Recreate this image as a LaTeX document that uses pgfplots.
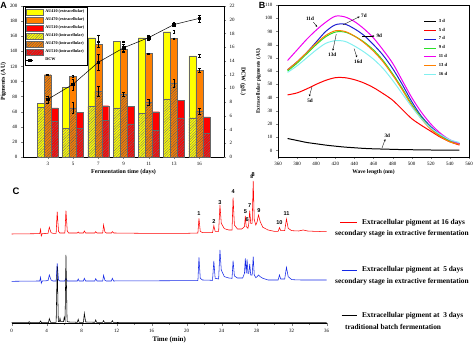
\documentclass[border=0pt]{standalone}
\usepackage{pgfplots}
\pgfplotsset{compat=1.18}
\usepackage{fontspec}
\setmainfont{Liberation Serif}
\newfontfamily\arial{Liberation Sans}
\usetikzlibrary{patterns.meta,arrows.meta}
\definecolor{cyel}{RGB}{255,255,0}
\definecolor{cora}{RGB}{255,128,0}
\definecolor{cred}{RGB}{255,0,0}
\definecolor{cblue}{RGB}{30,30,210}
\definecolor{cgreen}{RGB}{40,225,40}
\definecolor{cmag}{RGB}{240,0,240}
\definecolor{ccyan}{RGB}{130,240,240}
\definecolor{cblueC}{RGB}{20,40,230}
\pgfplotsset{
  barA/.style={ybar, bar width=0.277, draw=black!60, line width=0.3pt, area legend},
  errB/.style={error bars/y dir=both, error bars/y explicit,
     error bars/error bar style={black,line width=0.35pt},
     error bars/error mark options={rotate=90, mark size=1.3bp, black, line width=0.35pt}},
  hatch/.style={postaction={pattern={Lines[angle=45,distance=1.9bp,line width=0.4bp]}, pattern color=#1}},
  ticksf/.style={tick label style={font=\fontsize{5}{5}\selectfont}, /pgf/number format/assume math mode=true},
  labf/.style={label style={font=\bfseries\fontsize{6}{6}\selectfont}},
}
\begin{document}
\begin{tikzpicture}[x=1bp,y=1bp]
\useasboundingbox (0,0) rectangle (474,351);

% ---------------- Panel A ----------------
\begin{axis}[at={(23bp,194bp)}, anchor=south west, scale only axis,
  width=201bp, height=151bp,
  xmin=-0.98, xmax=6.98, ymin=0, ymax=200,
  xtick={0,...,6}, xticklabels={3,5,7,9,11,13,16},
  ytick={0,20,...,200},
  xtick pos=left, ytick pos=left, tick align=outside,
  major tick length=2bp, ticksf, labf,
  xlabel={Fermentation time (days)}, ylabel={Pigments (AU)},
  xlabel style={yshift=3bp}, ylabel style={yshift=-3bp},
  axis line style={line width=0.4pt},
  legend style={at={(0.01,0.993)}, anchor=north west, draw=black, line width=0.3pt,
    font=\bfseries\fontsize{4.2}{4.2}\selectfont, inner sep=0.8bp, row sep=-0.4bp,
    legend cell align=left},
  legend image code/.code={\draw[#1] (0bp,-1.6bp) rectangle (7bp,1.6bp);},
]
\addplot[barA, bar shift=-0.277, fill=cyel, errB] coordinates {
 (0,71) +- (0,3) (1,92) +- (0,4) (2,158) +- (0,4) (3,153) +- (0,1)
 (4,158) +- (0,2) (5,166) +- (0,2) (6,134) +- (0,2)};
\addlegendentry{AU410 (extracellular)}
\addplot[barA, bar shift=0, fill=cora, errB] coordinates {
 (0,108) +- (0,1) (1,107) +- (0,1) (2,149) +- (0,3) (3,143) +- (0,3)
 (4,137) +- (0,1) (5,157) +- (0,1) (6,115) +- (0,2)};
\addlegendentry{AU470 (extracellular)}
\addplot[barA, bar shift=0.277, fill=cred, errB] coordinates {
 (0,65) +- (0,4) (1,59) +- (0,0.5) (2,68) +- (0,0.5) (3,67) +- (0,0.5)
 (4,60) +- (0,0.5) (5,75) +- (0,0.5) (6,53) +- (0,0.5)};
\addlegendentry{AU510 (extracellular)}
\addplot[barA, bar shift=-0.277, fill=cyel, hatch=black!55, errB] coordinates {
 (0,66) +- (0,3) (1,38) +- (0,2) (2,67) +- (0,4) (3,65) +- (0,3)
 (4,58) +- (0,3) (5,77) +- (0,1) (6,52) +- (0,2)};
\addlegendentry{AU410 (intracellular)}
\addplot[barA, bar shift=0, fill=cora, hatch=black!65, errB] coordinates {
 (0,109) +- (0,1) (1,65) +- (0,7) (2,87) +- (0,7) (3,83) +- (0,3)
 (4,72) +- (0,4) (5,98) +- (0,5) (6,61) +- (0,4)};
\addlegendentry{AU470 (intracellular)}
\addplot[barA, bar shift=0.277, fill=cred, hatch=black!55] coordinates {
 (0,48) (1,38) (2,49) (3,44) (4,36) (5,52) (6,32)};
\addlegendentry{AU510 (intracellular)}
\addlegendimage{legend image code/.code={\draw[black,line width=0.5pt] (0bp,0bp) -- (7bp,0bp);
   \fill[black] (2.3bp,-1.2bp) rectangle (4.7bp,1.2bp);}}
\addlegendentry{DCW}
\end{axis}

\begin{axis}[at={(23bp,194bp)}, anchor=south west, scale only axis,
  width=201bp, height=151bp,
  xmin=-0.98, xmax=6.98, ymin=0, ymax=22,
  axis y line*=right, axis x line=none,
  ytick={0,2,...,22}, tick align=outside, major tick length=2bp,
  ticksf, labf, ylabel={DCW (g/L)}, ylabel style={rotate=180, yshift=-1bp},
]
\addplot[black, line width=0.5pt, mark=square*, mark size=1.3bp, errB] coordinates {
 (0,8.4) +- (0,0.5) (1,10.6) +- (0,0.8) (2,13.8) +- (0,1.2) (3,15.9) +- (0,0.6)
 (4,17.4) +- (0,0.4) (5,19.3) +- (0,0.3) (6,20.2) +- (0,0.5)};
\end{axis}

% ---------------- Panel B ----------------
\begin{axis}[at={(278bp,194bp)}, anchor=south west, scale only axis,
  width=191bp, height=152bp,
  xmin=360, xmax=560, ymin=-5, ymax=110,
  xtick={360,380,...,560}, ytick={0,10,...,110},
  xtick pos=left, ytick pos=left, tick align=outside, major tick length=2bp,
  ticksf, labf,
  xlabel={Wave length (nm)}, ylabel={Extracellular pigments (AU)},
  xlabel style={yshift=3bp, font=\bfseries\fontsize{5.6}{5.6}\selectfont},
  ylabel style={yshift=-3bp, font=\bfseries\fontsize{5.4}{5.4}\selectfont},
  legend style={at={(0.76,0.925)}, anchor=north west, draw=none, fill=none,
    font=\bfseries\fontsize{4.6}{4.6}\selectfont, inner sep=0.5bp, row sep=0.2bp,
    legend cell align=left},
  legend image code/.code={\draw[#1] (0bp,0bp) -- (12bp,0bp);},
  every axis plot/.append style={line width=1pt, smooth},
]
\addplot[black] coordinates {(370,9)(380,7.5)(390,6)(400,5)(410,4)(420,3.2)(430,2.5)(440,2)(450,1.5)(460,1.2)(470,1)(480,0.8)(490,0.6)(500,0.5)(510,0.4)(520,0.3)(530,0.2)(540,0.2)(550,0.2)};
\addlegendentry{3 d}
\addplot[cred] coordinates {(370,42)(380,43.5)(390,46.5)(400,50)(410,53)(420,55)(430,55)(440,53.5)(450,51)(460,47.5)(470,43)(480,38)(490,31)(500,24)(510,19)(520,14.5)(530,10)(540,6.5)(550,4)};
\addlegendentry{5 d}
\addplot[cblue] coordinates {(370,61)(380,67)(390,74)(400,82)(410,90)(420,95)(430,95.5)(440,92)(450,87)(460,80)(470,72)(480,62)(490,50)(500,37)(510,26)(520,18)(530,12)(540,7)(550,5)};
\addlegendentry{7 d}
\addplot[cgreen] coordinates {(370,60)(380,66)(390,73)(400,80)(410,86)(420,89.5)(430,89.5)(440,86.5)(450,82)(460,76)(470,68)(480,58)(490,47)(500,35)(510,25)(520,17)(530,11)(540,7)(550,5)};
\addlegendentry{9 d}
\addplot[cmag] coordinates {(370,68)(380,76)(390,84)(400,91)(410,97)(420,101.5)(430,101)(440,97.5)(450,92)(460,85)(470,76)(480,66)(490,53)(500,40)(510,29)(520,20)(530,13)(540,8)(550,5)};
\addlegendentry{11 d}
\addplot[cora] coordinates {(370,61)(380,67)(390,74)(400,81)(410,87)(420,90.5)(430,90)(440,86.5)(450,81.5)(460,75)(470,67)(480,57)(490,46)(500,34)(510,24)(520,16)(530,10.5)(540,6.5)(550,4.5)};
\addlegendentry{13 d}
\addplot[ccyan] coordinates {(370,59)(380,64)(390,70)(400,76)(410,81)(420,83)(430,82.5)(440,79)(450,74.5)(460,69)(470,62)(480,53)(490,43)(500,33)(510,24)(520,17)(530,12)(540,8)(550,6)};
\addlegendentry{16 d}
\begin{scope}[font=\bfseries\fontsize{5.2}{5.2}\selectfont, -{Stealth[length=2bp,width=2bp]}, line width=0.35pt]
\node at (axis cs:393.5,99.7) {11d};
\draw (axis cs:397,97) -- (axis cs:401,93.5);
\node at (axis cs:450,101.7) {7d};
\draw (axis cs:428,95) -- (axis cs:445.5,101.2);
\node at (axis cs:466,86.5) {9d};
\draw (axis cs:448,86.5) -- (axis cs:461,86.5);
\node at (axis cs:416.8,72) {13d};
\draw (axis cs:421,88) -- (axis cs:417.4,75.5);
\node at (axis cs:444,66.9) {16d};
\draw (axis cs:439.7,77) -- (axis cs:442.6,70.4);
\node at (axis cs:393.5,37.3) {5d};
\draw (axis cs:395.5,48) -- (axis cs:392.8,40.9);
\node at (axis cs:474.5,11.4) {3d};
\draw (axis cs:468.7,1.5) -- (axis cs:472.3,8.5);
\end{scope}
\end{axis}

% ---------------- Panel C ----------------
\begin{axis}[at={(11.7bp,27.7bp)}, anchor=south west, scale only axis,
  width=315bp, height=153.3bp,
  xmin=0, xmax=36, ymin=0, ymax=460,
  axis x line*=bottom, axis y line=none,
  xtick={0,4,...,36}, minor x tick num=1, tick align=outside,
  major tick length=2.2bp, minor tick length=1.3bp,
  ticksf, xlabel={Time (min)},
  xlabel style={yshift=3bp, font=\bfseries\fontsize{7}{7}\selectfont},
  every axis plot/.append style={line width=0.55pt},
  clip=false,
]
\addplot[cred] coordinates {(0,268) (3.2,269) (3.3,282) (3.38,262) (3.5,269) (4.15,270) (4.3,288) (4.5,272) (4.7,270) (5.08,270) (5.2,335) (5.35,276) (5.5,271) (6.08,271) (6.2,338) (6.35,277) (6.5,271) (7.5,271) (7.6,274) (7.7,271) (8.2,271) (8.3,277) (8.45,271) (9.5,271) (9.6,275) (9.75,271) (10.4,271) (10.5,295) (10.65,274) (10.8,271) (11.4,271) (11.5,275) (11.65,271) (15,270) (20,270) (21.28,271) (21.4,315) (21.55,276) (21.8,272) (22.95,272) (23.1,293) (23.25,276) (23.65,276) (23.8,355) (23.95,300) (24.3,284) (24.8,280) (25.18,280) (25.3,377) (25.45,295) (25.8,283) (26.3,283) (26.6,290) (26.7,322) (26.8,290) (26.9,288) (27.0,285) (27.1,300) (27.2,338) (27.32,300) (27.48,300) (27.6,427) (27.72,310) (27.9,295) (28.05,305) (28.2,325) (28.4,305) (28.7,288) (29.3,280) (30.0,276) (30.45,276) (30.6,287) (30.75,278) (31.2,278) (31.4,313) (31.6,285) (32,278) (32.8,277) (33.3,280) (33.8,277) (34.6,276) (35.0,276) (35.4,275) (36,275)};
\addplot[cblueC] coordinates {(0,126) (3.2,127) (3.3,138) (3.38,120) (3.5,127) (4.15,128) (4.3,145) (4.5,130) (4.7,127) (5.08,127) (5.2,180) (5.35,130) (5.5,127) (6.05,127) (6.2,135) (6.35,127) (7.5,127) (7.6,133) (7.7,127) (8.2,127) (8.3,135) (8.45,127) (9.5,127) (9.6,134) (9.75,127) (10.4,127) (10.5,144) (10.65,129) (10.8,127) (11.4,127) (11.5,135) (11.65,127) (20,128) (21.28,128) (21.4,198) (21.55,135) (21.8,130) (22.95,129) (23.1,187) (23.25,135) (23.65,133) (23.8,220) (23.95,160) (24.3,140) (24.8,136) (25.18,135) (25.3,188) (25.45,142) (25.8,136) (26.4,136) (26.6,150) (26.7,195) (26.8,150) (26.9,192) (27.0,150) (27.1,150) (27.2,178) (27.32,145) (27.48,145) (27.6,200) (27.72,145) (27.9,137) (28.05,140) (28.2,145) (28.4,140) (28.7,135) (29.3,130) (30.45,130) (30.6,145) (30.75,133) (31.2,133) (31.4,168) (31.6,140) (32,131) (33,130) (36,130)};
\addplot[black] coordinates {(0,2) (1.9,2) (2.0,5) (2.1,2) (3.2,2) (3.3,7) (3.4,2) (4.2,2) (4.3,14) (4.45,3) (5.08,3) (5.2,172) (5.33,5) (5.45,5) (5.52,15) (5.6,5) (5.92,5) (6.0,18) (6.1,8) (6.2,205) (6.33,6) (6.5,4) (7.5,3) (7.6,12) (7.7,3) (8.2,3) (8.3,30) (8.45,4) (9.5,3) (9.6,10) (9.7,3) (10.4,3) (10.5,8) (10.6,3) (11.4,3) (11.5,8) (11.6,3) (12.5,2) (36,2)};
\begin{scope}[font=\arial\bfseries\fontsize{5.6}{5.6}\selectfont]
\node at (axis cs:21.4,328) {1};
\node at (axis cs:23.1,305) {2};
\node at (axis cs:23.8,363) {3};
\node at (axis cs:25.3,394) {4};
\node at (axis cs:26.7,335) {5};
\node at (axis cs:26.9,312) {6};
\node at (axis cs:27.2,354) {7};
\node at (axis cs:27.6,446) {8};
\node at (axis cs:28.25,337) {9};
\node at (axis cs:30.6,302) {10};
\node at (axis cs:31.4,328) {11};
\end{scope}
\end{axis}

% legend of panel C
\begin{scope}[font=\bfseries\fontsize{7.4}{7.4}\selectfont]
\draw[cred, line width=0.7pt] (340,128.3) -- (357,128.3);
\node[anchor=west, inner sep=0] at (362,128.3) {Extracellular pigment at 16 days};
\node[anchor=west, inner sep=0] at (335,117.7) {secondary stage in extractive fermentation};
\draw[cblueC, line width=0.7pt] (341.7,81) -- (356.7,81);
\node[anchor=west, inner sep=0] at (362,81) {Extracellular pigment at~~5 days};
\node[anchor=west, inner sep=0] at (335,69.3) {secondary stage in extractive fermentation};
\draw[black, line width=0.7pt] (341.7,35.3) -- (356.7,35.3);
\node[anchor=west, inner sep=0] at (362,35.3) {Extracellular pigment at~~3 days};
\node[anchor=west, inner sep=0] at (345,23.7) {traditional batch fermentation};
\end{scope}

% panel letters
\node[font=\arial\bfseries\fontsize{9}{9}\selectfont, inner sep=0] at (3.5,346) {A};
\node[font=\arial\bfseries\fontsize{9}{9}\selectfont, inner sep=0] at (262,346) {B};
\node[font=\arial\bfseries\fontsize{9.5}{9.5}\selectfont, inner sep=0] at (16,159.3) {C};
\node[font=\arial\bfseries\fontsize{5}{5}\selectfont, inner sep=0] at (251.7,174.3) {8};
\end{tikzpicture}
\end{document}
